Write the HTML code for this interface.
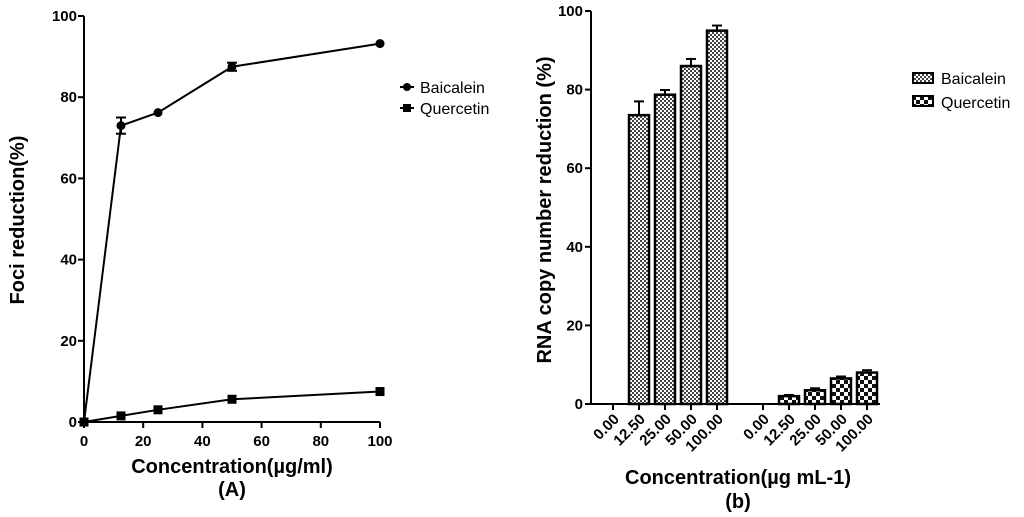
<!DOCTYPE html>
<html><head><meta charset="utf-8">
<style>
html,body{margin:0;padding:0;background:#fff;}
svg{display:block;font-family:"Liberation Sans",Arial,sans-serif;}
.t{font-weight:bold;font-size:15px;}
.tr{font-weight:bold;font-size:15px;}
.ttl{font-weight:bold;font-size:20px;}
</style></head>
<body>
<svg id="c" width="1024" height="517" viewBox="0 0 1024 517" xmlns="http://www.w3.org/2000/svg">
<defs>
<pattern id="pB" width="4" height="4" patternUnits="userSpaceOnUse">
<rect width="4" height="4" fill="#fff"/><rect width="2" height="2" fill="#444"/><rect x="2" y="2" width="2" height="2" fill="#444"/>
</pattern>
<pattern id="pQ" width="8" height="8" patternUnits="userSpaceOnUse">
<rect width="8" height="8" fill="#fff"/><rect width="4" height="4" fill="#111"/><rect x="4" y="4" width="4" height="4" fill="#111"/>
</pattern>
</defs>
<g id="left"></g>
<g id="right"></g>
</svg>
<script>
// Chart A data
const concA = [0, 12.5, 25, 50, 100];
const baicaleinA = [0, 73, 76.2, 87.5, 93.2];
const baicaleinErrA = [0, 2, 0.4, 1, 0.3];
const quercetinA = [0, 1.5, 3, 5.6, 7.5];
const xTicksA = [0, 20, 40, 60, 80, 100];
const yTicksA = [0, 20, 40, 60, 80, 100];
// Chart B data
const catsB = ["0.00", "12.50", "25.00", "50.00", "100.00"];
const baicaleinB = [0, 73.5, 78.7, 86, 95];
const baicaleinErrB = [0, 3.5, 1.2, 1.8, 1.3];
const quercetinB = [0, 2, 3.5, 6.5, 8];
const quercetinErrB = [0, 0.3, 0.5, 0.5, 0.6];
const yTicksB = [0, 20, 40, 60, 80, 100];

const NS = "http://www.w3.org/2000/svg";
function mk(parent, tag, attrs, text) {
  const e = document.createElementNS(NS, tag);
  for (const k in attrs) e.setAttribute(k, attrs[k]);
  if (text !== undefined) e.textContent = text;
  parent.appendChild(e);
  return e;
}

// ---------- Chart A ----------
const L = document.getElementById('left');
const xA = v => 84 + v * 2.96;
const yA = v => 422 - v * 4.06;
let e;
e = mk(L, 'line', {x1: 84, y1: 16, x2: 84, y2: 422, stroke: '#000', 'stroke-width': 2});


e = mk(L, 'line', {x1: 84, y1: 422, x2: 380, y2: 422, stroke: '#000', 'stroke-width': 2});


yTicksA.forEach(v => {
  mk(L, 'line', {x1: 78, y1: yA(v), x2: 84, y2: yA(v), stroke: '#000', 'stroke-width': 2});
  e = mk(L, 'text', {x: 77, y: yA(v) + 5, 'text-anchor': 'end', class: 't'}, v);
  
  
});
xTicksA.forEach(v => {
  mk(L, 'line', {x1: xA(v), y1: 422, x2: xA(v), y2: 428, stroke: '#000', 'stroke-width': 2});
  e = mk(L, 'text', {x: xA(v), y: 446, 'text-anchor': 'middle', class: 't'}, v);
  
  
});
e = mk(L, 'polyline', {points: concA.map((c, i) => xA(c) + ',' + yA(baicaleinA[i])).join(' '), fill: 'none', stroke: '#000', 'stroke-width': 2});


concA.forEach((c, i) => {
  const er = baicaleinErrA[i];
  if (er > 0.5) {
    mk(L, 'line', {x1: xA(c), y1: yA(baicaleinA[i] + er), x2: xA(c), y2: yA(baicaleinA[i] - er), stroke: '#000', 'stroke-width': 2});
    mk(L, 'line', {x1: xA(c) - 5, y1: yA(baicaleinA[i] + er), x2: xA(c) + 5, y2: yA(baicaleinA[i] + er), stroke: '#000', 'stroke-width': 2});
    mk(L, 'line', {x1: xA(c) - 5, y1: yA(baicaleinA[i] - er), x2: xA(c) + 5, y2: yA(baicaleinA[i] - er), stroke: '#000', 'stroke-width': 2});
  }
  e = mk(L, 'circle', {cx: xA(c), cy: yA(baicaleinA[i]), r: 4.5, fill: '#000'});
  
  
});
e = mk(L, 'polyline', {points: concA.map((c, i) => xA(c) + ',' + yA(quercetinA[i])).join(' '), fill: 'none', stroke: '#000', 'stroke-width': 2});


concA.forEach((c, i) => {
  e = mk(L, 'rect', {x: xA(c) - 4.5, y: yA(quercetinA[i]) - 4.5, width: 9, height: 9, fill: '#000'});
  
  
});
mk(L, 'line', {x1: 400, y1: 87, x2: 414, y2: 87, stroke: '#000', 'stroke-width': 2});
mk(L, 'circle', {cx: 407, cy: 87, r: 4, fill: '#000'});
e = mk(L, 'text', {x: 420, y: 93, 'font-size': 16}, 'Baicalein');


mk(L, 'line', {x1: 400, y1: 108, x2: 414, y2: 108, stroke: '#000', 'stroke-width': 2});
mk(L, 'rect', {x: 403, y: 104, width: 8, height: 8, fill: '#000'});
e = mk(L, 'text', {x: 420, y: 114, 'font-size': 16}, 'Quercetin');


e = mk(L, 'text', {x: 232, y: 473, 'text-anchor': 'middle', class: 'ttl'}, 'Concentration(µg/ml)');


e = mk(L, 'text', {x: 232, y: 496, 'text-anchor': 'middle', class: 'ttl'}, '(A)');


e = mk(L, 'text', {x: 0, y: 0, 'text-anchor': 'middle', class: 'ttl', transform: 'translate(24,220) rotate(-90)'}, 'Foci reduction(%)');



// ---------- Chart B ----------
const R = document.getElementById('right');
const yB = v => 404 - v * 3.93;
const groupStart = [613, 763];
const step = 26, bw = 20;
e = mk(R, 'line', {x1: 591, y1: 11, x2: 591, y2: 404, stroke: '#000', 'stroke-width': 2});


e = mk(R, 'line', {x1: 591, y1: 404, x2: 880, y2: 404, stroke: '#000', 'stroke-width': 2});


yTicksB.forEach(v => {
  mk(R, 'line', {x1: 585, y1: yB(v), x2: 591, y2: yB(v), stroke: '#000', 'stroke-width': 2});
  e = mk(R, 'text', {x: 583, y: yB(v) + 5, 'text-anchor': 'end', class: 't'}, v);
  
  
});
[[baicaleinB, baicaleinErrB, 'url(#pB)', 'baicalein'], [quercetinB, quercetinErrB, 'url(#pQ)', 'quercetin']].forEach((s, g) => {
  catsB.forEach((cat, i) => {
    const cx = groupStart[g] + i * step;
    mk(R, 'line', {x1: cx, y1: 404, x2: cx, y2: 410, stroke: '#000', 'stroke-width': 2});
    e = mk(R, 'text', {x: 0, y: 0, 'text-anchor': 'end', class: 'tr', transform: 'translate(' + (cx + 7) + ',420) rotate(-45)'}, cat);
    
    
    const v = s[0][i];
    if (v > 0) {
      const er = s[1][i];
      mk(R, 'line', {x1: cx, y1: yB(v), x2: cx, y2: yB(v + er), stroke: '#000', 'stroke-width': 2});
      mk(R, 'line', {x1: cx - 5, y1: yB(v + er), x2: cx + 5, y2: yB(v + er), stroke: '#000', 'stroke-width': 2});
      e = mk(R, 'rect', {x: cx - bw / 2, y: yB(v), width: bw, height: yB(0) - yB(v), fill: s[2], stroke: '#000', 'stroke-width': 2.5});
      
      
    }
  });
});
e = mk(R, 'rect', {x: 913, y: 73, width: 20, height: 10, fill: 'url(#pB)', stroke: '#000', 'stroke-width': 2});


e = mk(R, 'text', {x: 941, y: 84, 'font-size': 16}, 'Baicalein');


e = mk(R, 'rect', {x: 913, y: 96, width: 20, height: 10, fill: 'url(#pQ)', stroke: '#000', 'stroke-width': 2});


e = mk(R, 'text', {x: 941, y: 108, 'font-size': 16}, 'Quercetin');


e = mk(R, 'text', {x: 738, y: 484, 'text-anchor': 'middle', class: 'ttl', 'font-size': 21}, 'Concentration(µg mL-1)');


e = mk(R, 'text', {x: 738, y: 508, 'text-anchor': 'middle', class: 'ttl'}, '(b)');


e = mk(R, 'text', {x: 0, y: 0, 'text-anchor': 'middle', class: 'ttl', transform: 'translate(551,210) rotate(-90)'}, 'RNA copy number reduction (%)');


</script>
</body></html>
